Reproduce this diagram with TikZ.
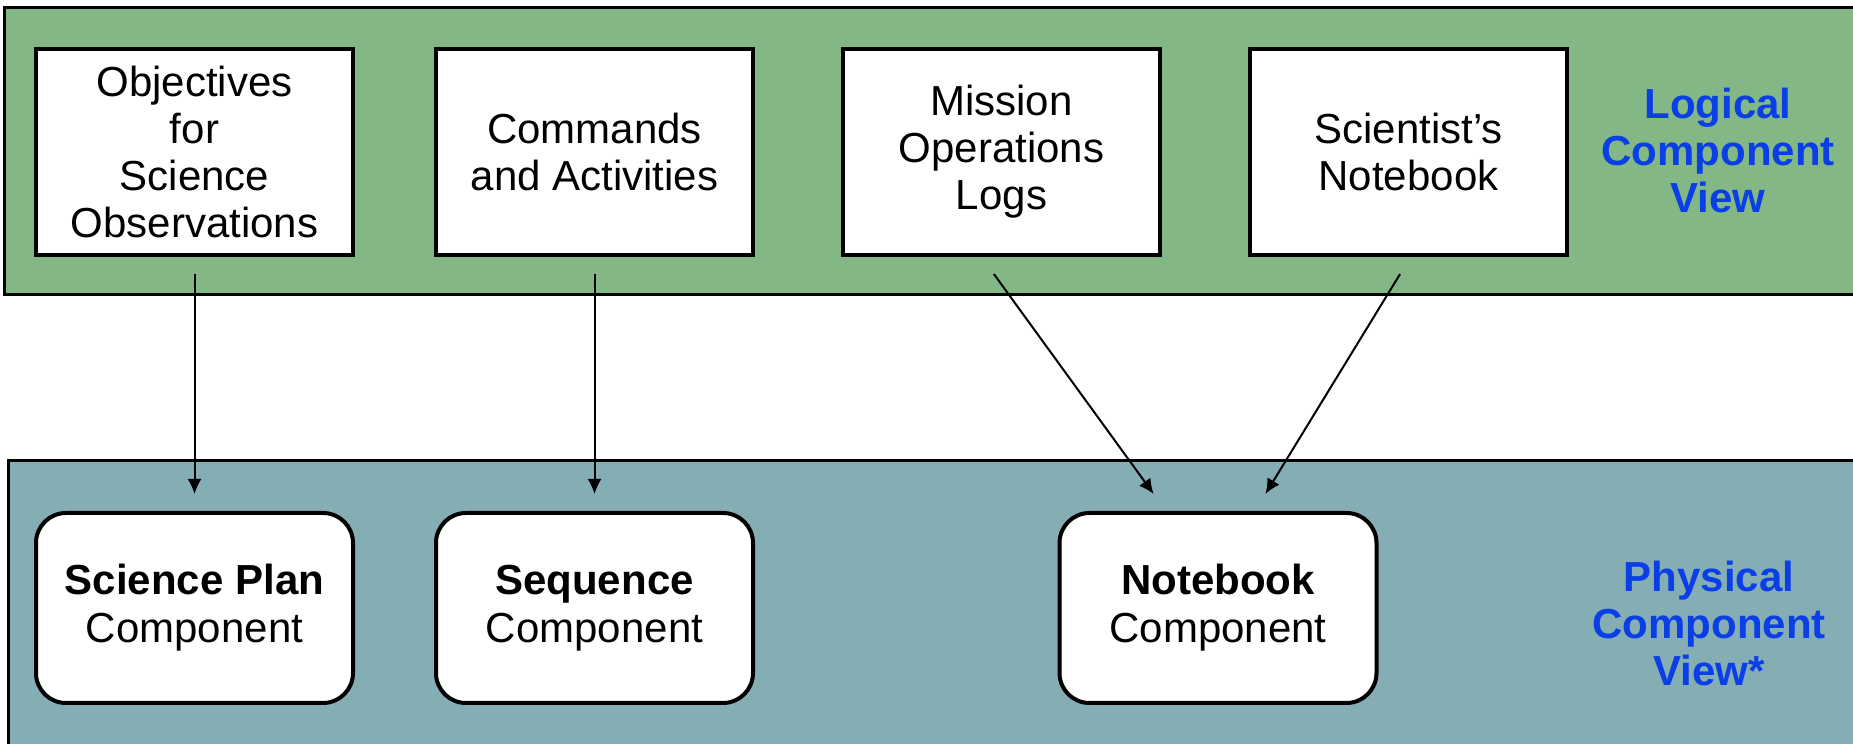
\documentclass[tikz,border=0pt]{standalone}
\usepackage{fontspec}
\setmainfont{Liberation Sans}
\usetikzlibrary{arrows.meta}
\definecolor{logicgreen}{RGB}{131,184,134}
\definecolor{physteal}{RGB}{132,173,180}
\definecolor{viewblue}{RGB}{10,62,230}
\begin{document}
\begin{tikzpicture}[>={Latex[length=15pt,width=14pt]},x=1pt,y=1pt,
        logical/.style={draw,line width=4pt,fill=white,minimum width=317pt,minimum height=206pt,
            align=center,inner sep=0pt,font=\fontsize{42}{47}\selectfont},
        physical/.style={draw,line width=4pt,fill=white,rounded corners=30pt,minimum width=317pt,
            minimum height=190pt,align=center,inner sep=0pt,font=\fontsize{42}{48}\selectfont},
        viewlabel/.style={align=center,text=viewblue,font=\bfseries\fontsize{42}{47}\selectfont},
        link/.style={->,line width=2pt}]
        \useasboundingbox(0,0)rectangle(1853,744);
        \fill[white](0,0)rectangle(1853,744);
        % the two views
        \draw[line width=3pt,fill=logicgreen](4,449)rectangle(1880,736);
        \draw[line width=3pt,fill=physteal](8,-20)rectangle(1880,283);
        \node[logical](obj) at (194.5,592){Objectives\\for\\Science\\Observations};
        \node[logical](cmd) at (594.5,592){Commands\\and Activities};
        \node[logical](mol) at (1001.5,592){Mission\\Operations\\Logs};
        \node[logical](sci) at (1408.5,592){Scientist’s\\Notebook};
        \node[viewlabel](lcv) at (1718,594){Logical\\Component\\View};
        \node[physical](spc) at (194.5,136){\textbf{Science Plan}\\Component};
        \node[physical](sqc) at (594.5,136){\textbf{Sequence}\\Component};
        \node[physical](nbc) at (1218,136){\textbf{Notebook}\\Component};
        \node[viewlabel](pcv) at (1709,121){Physical\\Component\\View*};
        \draw[link,shorten <=17pt,shorten >=17pt](obj.south)--(spc.north);
        \draw[link,shorten <=17pt,shorten >=17pt](cmd.south)--(sqc.north);
        \draw[link,shorten <=21pt,shorten >=21pt]([xshift=-20pt]mol.south)--([xshift=-52pt]nbc.north);
        \draw[link,shorten <=20pt,shorten >=20pt]([xshift=2pt]sci.south)--([xshift=37pt]nbc.north);
    \end{tikzpicture}
\end{document}
